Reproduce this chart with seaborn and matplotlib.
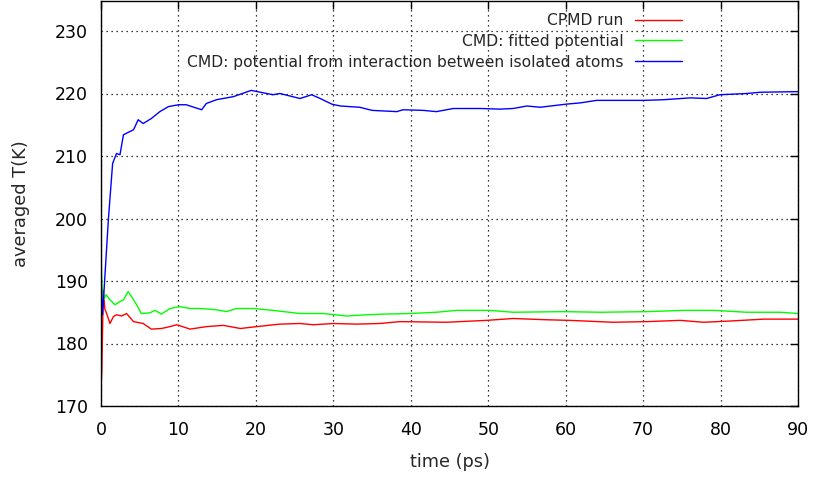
import numpy as np
import pandas as pd
import matplotlib
matplotlib.use("Agg")
import matplotlib.pyplot as plt
import seaborn as sns

# ---- data ----
t_cpmd = [0.0, 0.1, 0.3, 0.5, 0.73, 1.16, 1.6, 2.0, 2.65, 3.3, 4.2, 5.45, 6.5, 7.8, 8.9, 9.8,
          11.5, 13.6, 15.8, 18.0, 20.1, 23.1, 25.7, 27.4, 30.0, 33.0, 36.0, 38.6, 44.6, 49.8,
          53.2, 57.5, 60.5, 66.1, 70.5, 74.8, 77.8, 81.3, 85.6, 90.0]
T_cpmd = [173.0, 175.5, 188.5, 185.5, 184.8, 183.2, 184.3, 184.6, 184.4, 184.8, 183.5, 183.2,
          182.3, 182.4, 182.7, 183.0, 182.3, 182.7, 182.9, 182.4, 182.7, 183.1, 183.2, 183.0,
          183.2, 183.1, 183.2, 183.5, 183.4, 183.7, 184.0, 183.8, 183.7, 183.4, 183.5, 183.7,
          183.4, 183.6, 183.9, 183.9]

t_fit = [0.0, 0.15, 0.35, 0.65, 1.16, 1.8, 2.45, 2.9, 3.5, 3.95, 4.6, 5.2, 6.3, 7.0, 7.8, 8.9,
         10.2, 11.5, 12.8, 14.9, 16.2, 17.5, 19.7, 22.2, 25.7, 28.7, 31.7, 34.3, 36.5, 39.9,
         43.3, 45.9, 50.2, 53.2, 59.7, 64.5, 70.5, 75.3, 79.1, 83.4, 87.7, 90.0]
T_fit = [193.4, 189.0, 187.0, 187.8, 187.0, 186.2, 186.7, 187.0, 188.3, 187.5, 186.2, 184.8,
         184.9, 185.3, 184.7, 185.6, 185.9, 185.6, 185.6, 185.4, 185.1, 185.6, 185.6, 185.3,
         184.8, 184.8, 184.4, 184.6, 184.7, 184.8, 185.0, 185.3, 185.3, 185.0, 185.1, 185.0,
         185.1, 185.3, 185.3, 185.0, 185.0, 184.8]

t_iso = [0.0, 0.2, 0.95, 1.5, 2.0, 2.45, 2.9, 4.2, 4.8, 5.45, 6.5, 7.6, 8.7, 10.0, 11.0, 13.0,
         13.6, 14.9, 17.1, 19.4, 22.2, 23.1, 24.4, 25.7, 27.2, 28.3, 29.8, 30.9, 33.4, 35.0,
         38.2, 39.0, 41.6, 43.3, 45.5, 49.0, 51.5, 53.2, 55.0, 56.7, 60.1, 61.9, 64.0, 70.0,
         72.6, 76.1, 78.2, 79.9, 83.4, 85.1, 90.0]
T_iso = [190.0, 184.6, 199.8, 208.8, 210.4, 210.2, 213.4, 214.2, 215.8, 215.2, 216.0, 217.1,
         217.9, 218.2, 218.2, 217.4, 218.4, 219.0, 219.5, 220.5, 219.8, 220.0, 219.6, 219.2,
         219.8, 219.2, 218.3, 218.0, 217.8, 217.3, 217.1, 217.4, 217.3, 217.1, 217.6, 217.6,
         217.5, 217.6, 218.0, 217.8, 218.3, 218.5, 218.9, 218.9, 219.0, 219.3, 219.2, 219.8,
         220.0, 220.2, 220.3]

labels = ["CPMD run", "CMD: fitted potential",
          "CMD: potential from interaction between isolated atoms"]
colors = ["#ff0000", "#00ff00", "#0000ff"]
x_ticks = list(range(0, 91, 10))
y_ticks = list(range(170, 231, 10))

df = pd.concat([
    pd.DataFrame({"time": t_cpmd, "T": T_cpmd, "series": labels[0]}),
    pd.DataFrame({"time": t_fit, "T": T_fit, "series": labels[1]}),
    pd.DataFrame({"time": t_iso, "T": T_iso, "series": labels[2]}),
], ignore_index=True)

sns.set_style("white")
plt.rcParams["font.family"] = ["DejaVu Sans"]

fig = plt.figure(figsize=(8.14, 4.78), dpi=100)
ax = fig.add_axes([101 / 814, 72 / 478, 697 / 814, 405 / 478])

sns.lineplot(data=df, x="time", y="T", hue="series", palette=dict(zip(labels, colors)),
             hue_order=labels, estimator=None, sort=False, linewidth=1.0, ax=ax)

ax.set_xlim(0, 90)
ax.set_ylim(170, 234.8)
ax.set_xticks(x_ticks)
ax.set_yticks(y_ticks)
ax.tick_params(direction="in", length=6, width=1, top=True, right=True,
               labelsize=12.5, colors="black")
ax.tick_params(axis="x", pad=11)
ax.tick_params(axis="y", pad=9.5)
ax.grid(True, linestyle=(0, (1, 3)), color="black", linewidth=0.9)
for s in ax.spines.values():
    s.set_color("black")
    s.set_linewidth(1.0)
ax.set_xlabel("time (ps)", fontsize=12.8, labelpad=10)
ax.set_ylabel("averaged T(K)", fontsize=12.8, labelpad=18)

handles, labs = ax.get_legend_handles_labels()
leg = ax.legend(handles, labs, loc="upper right", bbox_to_anchor=((682 - 101) / 697, 1 - 12 / 405),
                frameon=False, markerfirst=False, fontsize=11.2, handlelength=3.0,
                handletextpad=0.78, borderaxespad=0, borderpad=0, labelspacing=0.38)
for lt in leg.get_texts():
    lt.set_ha("right")
leg._legend_box.align = "right"

fig.savefig("out.png", dpi=100)
